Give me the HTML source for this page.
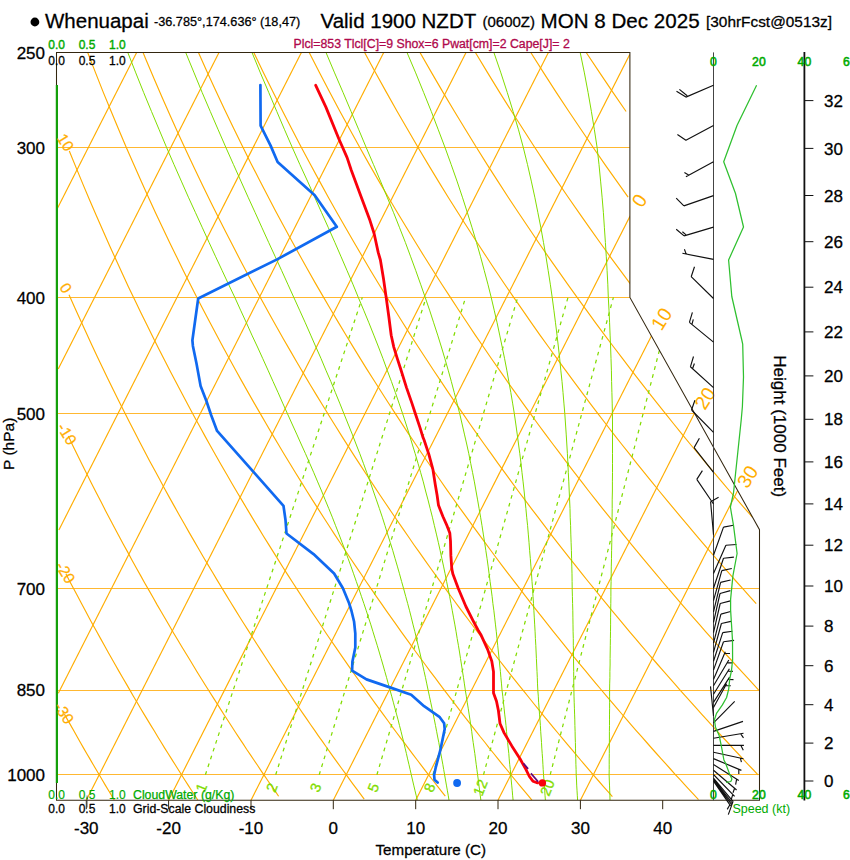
<!DOCTYPE html>
<html><head><meta charset="utf-8"><title>Whenuapai Skew-T</title>
<style>
html,body{margin:0;padding:0;background:#fff;}
body{width:850px;height:860px;overflow:hidden;}
svg{display:block;}
text{stroke-linejoin:round}
text[fill="#000"]{stroke:#000;stroke-width:.28px}
</style></head><body>
<svg width="850" height="860" viewBox="0 0 850 860">
<rect width="850" height="860" fill="#fff"/>
<defs><clipPath id="fc"><polygon points="56.5,800.2 759.5,800.2 759.5,529.7 629.9,297.4 629.9,52.5 56.5,52.5"/></clipPath></defs>
<g clip-path="url(#fc)" fill="none">
<g stroke="#ffb01a" stroke-width="0.9">
<path d="M56.5 774.5 H759.5"/>
<path d="M56.5 690.5 H759.5"/>
<path d="M56.5 588.5 H759.5"/>
<path d="M56.5 413.5 H694.4"/>
<path d="M56.5 297.5 H629.9"/>
<path d="M56.5 147.5 H629.9"/>
</g>
<g stroke="#ffad00" stroke-width="1.15">
<path d="M58.6 -280.3 L132.1 -424.9"/>
<path d="M57.4 -115.8 L214.5 -424.9"/>
<path d="M57.5 46.2 L296.8 -424.9"/>
<path d="M57.6 208.1 L379.2 -424.9"/>
<path d="M58.2 369.1 L461.5 -424.9"/>
<path d="M58.9 529.9 L543.9 -424.9"/>
<path d="M58.3 693.2 L626.2 -424.9"/>
<path d="M86.3 800.2 L629.1 -268.5"/>
<path d="M168.6 800.2 L628.1 -104.4"/>
<path d="M251 800.2 L629.7 54.6"/>
<path d="M333.3 800.2 L630.2 215.8"/>
<path d="M415.7 800.2 L651.9 335.1"/>
<path d="M498 800.2 L694.4 413.6"/>
<path d="M580.4 800.2 L737.4 491"/>
<path d="M64.4 714.1 L67.6 719.9 L70.9 725.6 L74.1 731.3 L77.3 737 L80.4 742.5 L83.6 748.1 L86.7 753.5 L89.9 758.9 L93 764.3 L96.1 769.5 L99.2 774.8 L102.3 780 L105.3 785.1 L108.4 790.2 L111.4 795.2 L114.4 800.2"/>
<path d="M65.9 573.8 L69.8 581.5 L73.8 588.9 L77.7 596.3 L81.5 603.6 L85.4 610.8 L89.2 617.9 L93 624.9 L96.8 631.8 L100.6 638.6 L104.3 645.3 L108 652 L111.7 658.5 L115.4 665 L119 671.4 L122.7 677.7 L126.3 683.9 L129.9 690.1 L133.4 696.2 L137 702.2 L140.5 708.2 L144 714.1 L147.5 719.9 L151 725.6 L154.5 731.3 L157.9 737 L161.3 742.5 L164.7 748.1 L168.1 753.5 L171.5 758.9 L174.9 764.3 L178.2 769.5 L181.5 774.8 L184.8 780 L188.1 785.1 L191.4 790.2 L194.7 795.2 L197.9 800.2"/>
<path d="M68.3 436.1 L73 446 L77.8 455.7 L82.5 465.2 L87.1 474.5 L91.7 483.7 L96.3 492.8 L100.9 501.6 L105.4 510.4 L109.9 518.9 L114.4 527.4 L118.8 535.7 L123.2 543.9 L127.6 551.9 L131.9 559.9 L136.2 567.7 L140.5 575.4 L144.7 583 L149 590.4 L153.2 597.8 L157.3 605.1 L161.5 612.2 L165.6 619.3 L169.7 626.3 L173.7 633.2 L177.8 640 L181.8 646.7 L185.8 653.3 L189.8 659.8 L193.7 666.3 L197.6 672.7 L201.5 679 L205.4 685.2 L209.2 691.3 L213.1 697.4 L216.9 703.4 L220.7 709.4 L224.4 715.2 L228.2 721 L231.9 726.8 L235.6 732.5 L239.3 738.1 L243 743.6 L246.6 749.2 L250.3 754.6 L253.9 760 L257.5 765.3 L261 770.6 L264.6 775.8 L268.1 781 L271.6 786.1 L275.2 791.2 L278.6 796.2"/>
<path d="M69 294.8 L74.8 307.7 L80.5 320.3 L86.1 332.6 L91.7 344.7 L97.2 356.4 L102.7 367.9 L108.1 379.2 L113.5 390.2 L118.8 401 L124.1 411.6 L129.4 421.9 L134.6 432.1 L139.7 442 L144.8 451.8 L149.9 461.4 L155 470.8 L160 480.1 L164.9 489.2 L169.8 498.1 L174.7 506.9 L179.5 515.5 L184.4 524 L189.1 532.4 L193.9 540.6 L198.6 548.7 L203.2 556.7 L207.9 564.6 L212.5 572.3 L217 579.9 L221.6 587.5 L226.1 594.9 L230.6 602.2 L235 609.4 L239.4 616.5 L243.8 623.5 L248.2 630.4 L252.5 637.2 L256.8 644 L261.1 650.6 L265.4 657.2 L269.6 663.7 L273.8 670.1 L278 676.4 L282.1 682.7 L286.3 688.9 L290.4 695 L294.4 701 L298.5 707 L302.5 712.9 L306.5 718.7 L310.5 724.5 L314.5 730.2 L318.4 735.8 L322.4 741.4 L326.3 747 L330.1 752.4 L334 757.8 L337.8 763.2 L341.7 768.5 L345.5 773.7 L349.2 778.9 L353 784.1 L356.8 789.2 L360.5 794.2 L364.2 799.2"/>
<path d="M69.3 151 L76.2 167.9 L83 184.4 L89.7 200.3 L96.4 215.8 L103 230.8 L109.5 245.4 L115.9 259.6 L122.3 273.4 L128.5 286.9 L134.8 300 L140.9 312.8 L147.1 325.3 L153.1 337.5 L159.1 349.4 L165 361.1 L170.9 372.5 L176.7 383.6 L182.5 394.5 L188.2 405.2 L193.8 415.7 L199.5 426 L205 436.1 L210.5 446 L216 455.7 L221.4 465.2 L226.8 474.5 L232.1 483.7 L237.4 492.8 L242.7 501.6 L247.9 510.4 L253 518.9 L258.2 527.4 L263.2 535.7 L268.3 543.9 L273.3 551.9 L278.3 559.9 L283.2 567.7 L288.1 575.4 L293 583 L297.8 590.4 L302.6 597.8 L307.4 605.1 L312.1 612.2 L316.8 619.3 L321.5 626.3 L326.1 633.2 L330.7 640 L335.3 646.7 L339.9 653.3 L344.4 659.8 L348.9 666.3 L353.3 672.7 L357.8 679 L362.2 685.2 L366.6 691.3 L370.9 697.4 L375.2 703.4 L379.6 709.4 L383.8 715.2 L388.1 721 L392.3 726.8 L396.5 732.5 L400.7 738.1 L404.9 743.6 L409 749.2 L413.1 754.6 L417.2 760 L421.3 765.3 L425.3 770.6 L429.4 775.8 L433.4 781 L437.4 786.1 L441.3 791.2 L445.3 796.2"/>
<path d="M71.5 9.1 L79.6 31.2 L87.7 52.5 L95.6 72.9 L103.4 92.6 L111.2 111.5 L118.8 129.8 L126.3 147.5 L133.8 164.6 L141.1 181.1 L148.4 197.2 L155.5 212.7 L162.6 227.8 L169.6 242.5 L176.6 256.8 L183.4 270.7 L190.2 284.2 L196.9 297.4 L203.5 310.2 L210.1 322.8 L216.6 335.1 L223 347 L229.4 358.7 L235.7 370.2 L241.9 381.4 L248.1 392.4 L254.2 403.1 L260.3 413.6 L266.3 424 L272.2 434.1 L278.1 444 L283.9 453.7 L289.7 463.3 L295.5 472.7 L301.2 481.9 L306.8 491 L312.4 499.9 L318 508.6 L323.5 517.2 L329 525.7 L334.4 534.1 L339.8 542.3 L345.1 550.3 L350.4 558.3 L355.7 566.1 L360.9 573.8 L366.1 581.5 L371.2 588.9 L376.3 596.3 L381.4 603.6 L386.4 610.8 L391.4 617.9 L396.4 624.9 L401.3 631.8 L406.2 638.6 L411.1 645.3 L415.9 652 L420.7 658.5 L425.5 665 L430.2 671.4 L435 677.7 L439.6 683.9 L444.3 690.1 L448.9 696.2 L453.5 702.2 L458.1 708.2 L462.6 714.1 L467.1 719.9 L471.6 725.6 L476.1 731.3 L480.5 737 L485 742.5 L489.3 748.1 L493.7 753.5 L498 758.9 L502.4 764.3 L506.7 769.5 L510.9 774.8 L515.2 780 L519.4 785.1 L523.6 790.2 L527.8 795.2 L531.9 800.2"/>
<path d="M72.6 -139.3 L82.3 -110 L91.7 -82.3 L101.1 -56 L110.2 -31 L119.3 -7 L128.2 15.8 L137 37.7 L145.6 58.7 L154.2 78.9 L162.6 98.4 L170.8 117.1 L179 135.2 L187.1 152.7 L195 169.6 L202.9 186 L210.7 201.9 L218.3 217.3 L225.9 232.3 L233.4 246.8 L240.7 261 L248 274.8 L255.3 288.2 L262.4 301.3 L269.4 314 L276.4 326.5 L283.3 338.7 L290.2 350.6 L296.9 362.2 L303.6 373.6 L310.2 384.7 L316.8 395.6 L323.3 406.3 L329.7 416.8 L336.1 427 L342.4 437.1 L348.6 446.9 L354.8 456.6 L361 466.1 L367.1 475.5 L373.1 484.6 L379.1 493.7 L385 502.5 L390.9 511.2 L396.7 519.8 L402.5 528.2 L408.3 536.5 L413.9 544.7 L419.6 552.7 L425.2 560.7 L430.8 568.5 L436.3 576.1 L441.8 583.7 L447.2 591.2 L452.6 598.5 L458 605.8 L463.3 612.9 L468.6 620 L473.8 627 L479 633.8 L484.2 640.6 L489.3 647.3 L494.4 653.9 L499.5 660.5 L504.5 666.9 L509.5 673.3 L514.5 679.6 L519.5 685.8 L524.4 691.9 L529.3 698 L534.1 704 L538.9 709.9 L543.7 715.8 L548.5 721.6 L553.2 727.4 L557.9 733 L562.6 738.6 L567.2 744.2 L571.9 749.7 L576.5 755.1 L581 760.5 L585.6 765.8 L590.1 771.1 L594.6 776.3 L599.1 781.5 L603.5 786.6 L608 791.7 L612.4 796.7"/>
<path d="M74.5 -292.2 L85.7 -253.3 L96.7 -217.1 L107.6 -183.3 L118.3 -151.5 L128.8 -121.6 L139.1 -93.2 L149.2 -66.4 L159.2 -40.8 L169 -16.5 L178.7 6.8 L188.2 29.1 L197.5 50.4 L206.7 70.9 L215.8 90.7 L224.7 109.7 L233.5 128 L242.2 145.8 L250.7 162.9 L259.2 179.5 L267.5 195.6 L275.7 211.2 L283.8 226.3 L291.8 241 L299.7 255.3 L307.5 269.3 L315.2 282.9 L322.9 296.1 L330.4 309 L337.9 321.6 L345.2 333.8 L352.5 345.9 L359.7 357.6 L366.8 369.1 L373.9 380.3 L380.9 391.3 L387.8 402 L394.7 412.6 L401.4 422.9 L408.1 433.1 L414.8 443 L421.4 452.8 L427.9 462.3 L434.4 471.8 L440.8 481 L447.1 490.1 L453.4 499 L459.7 507.8 L465.9 516.4 L472 524.9 L478.1 533.2 L484.1 541.4 L490.1 549.5 L496 557.5 L501.9 565.3 L507.8 573.1 L513.6 580.7 L519.4 588.2 L525.1 595.6 L530.7 602.9 L536.4 610.1 L542 617.2 L547.5 624.2 L553 631.1 L558.5 637.9 L563.9 644.7 L569.3 651.3 L574.7 657.9 L580 664.3 L585.3 670.7 L590.6 677.1 L595.8 683.3 L601 689.5 L606.1 695.6 L611.3 701.6 L616.4 707.6 L621.4 713.5 L626.5 719.3 L631.4 725.1 L636.4 730.8 L641.4 736.4 L646.3 742 L651.1 747.5 L656 753 L660.8 758.4 L665.6 763.7 L670.4 769 L675.1 774.3 L679.9 779.4 L684.6 784.6 L689.2 789.7 L693.9 794.7 L698.5 799.7"/>
<path d="M96.5 -375.2 L109.1 -329.9 L121.6 -288.2 L133.7 -249.6 L145.7 -213.6 L157.4 -180 L169 -148.4 L180.2 -118.7 L191.3 -90.5 L202.2 -63.8 L212.9 -38.3 L223.4 -14.1 L233.7 9.1 L243.9 31.2 L253.8 52.5 L263.6 72.9 L273.3 92.6 L282.8 111.5 L292.2 129.8 L301.4 147.5 L310.5 164.6 L319.5 181.1 L328.3 197.2 L337 212.7 L345.6 227.8 L354.1 242.5 L362.5 256.8 L370.7 270.7 L378.9 284.2 L387 297.4 L395 310.2 L402.8 322.8 L410.6 335.1 L418.3 347 L426 358.7 L433.5 370.2 L441 381.4 L448.3 392.4 L455.6 403.1 L462.9 413.6 L470 424 L477.1 434.1 L484.1 444 L491.1 453.7 L498 463.3 L504.8 472.7 L511.5 481.9 L518.2 491 L524.9 499.9 L531.4 508.6 L538 517.2 L544.4 525.7 L550.8 534.1 L557.2 542.3 L563.5 550.3 L569.8 558.3 L576 566.1 L582.1 573.8 L588.2 581.5 L594.3 588.9 L600.3 596.3 L606.3 603.6 L612.2 610.8 L618.1 617.9 L623.9 624.9 L629.7 631.8 L635.5 638.6 L641.2 645.3 L646.9 652 L652.5 658.5 L658.1 665 L663.7 671.4 L669.2 677.7 L674.7 683.9 L680.1 690.1 L685.5 696.2 L690.9 702.2 L696.3 708.2 L701.6 714.1 L706.9 719.9 L712.1 725.6 L717.3 731.3 L722.5 737 L727.7 742.5 L732.8 748.1 L737.9 753.5 L742.9 758.9 L748 764.3 L753 769.5 L758 774.8"/>
<path d="M140.3 -375.2 L154 -329.9 L167.5 -288.2 L180.7 -249.6 L193.6 -213.6 L206.2 -180 L218.6 -148.4 L230.7 -118.7 L242.5 -90.5 L254.2 -63.8 L265.6 -38.3 L276.8 -14.1 L287.8 9.1 L298.6 31.2 L309.2 52.5 L319.7 72.9 L329.9 92.6 L340 111.5 L350 129.8 L359.8 147.5 L369.4 164.6 L378.9 181.1 L388.3 197.2 L397.5 212.7 L406.6 227.8 L415.6 242.5 L424.4 256.8 L433.2 270.7 L441.8 284.2 L450.4 297.4 L458.8 310.2 L467.1 322.8 L475.3 335.1 L483.5 347 L491.5 358.7 L499.5 370.2 L507.3 381.4 L515.1 392.4 L522.8 403.1 L530.4 413.6 L537.9 424 L545.4 434.1 L552.8 444 L560.1 453.7 L567.4 463.3 L574.5 472.7 L581.7 481.9 L588.7 491 L595.7 499.9 L602.6 508.6 L609.5 517.2 L616.3 525.7 L623 534.1 L629.7 542.3 L636.3 550.3 L642.9 558.3 L649.4 566.1 L655.9 573.8 L662.3 581.5 L668.6 588.9 L675 596.3 L681.2 603.6 L687.5 610.8 L693.6 617.9 L699.8 624.9 L705.8 631.8 L711.9 638.6 L717.9 645.3 L723.8 652 L729.8 658.5 L735.6 665 L741.5 671.4 L747.3 677.7 L753 683.9 L758.7 690.1"/>
<path d="M184.1 -375.2 L198.9 -329.9 L213.4 -288.2 L227.6 -249.6 L241.4 -213.6 L255 -180 L268.2 -148.4 L281.1 -118.7 L293.8 -90.5 L306.2 -63.8 L318.3 -38.3 L330.2 -14.1 L341.9 9.1 L353.4 31.2 L364.6 52.5 L375.7 72.9 L386.6 92.6 L397.2 111.5 L407.8 129.8 L418.1 147.5 L428.3 164.6 L438.3 181.1 L448.2 197.2 L458 212.7 L467.6 227.8 L477.1 242.5 L486.4 256.8 L495.6 270.7 L504.7 284.2 L513.7 297.4 L522.6 310.2 L531.4 322.8 L540 335.1 L548.6 347 L557 358.7 L565.4 370.2 L573.7 381.4 L581.9 392.4 L589.9 403.1 L597.9 413.6 L605.9 424 L613.7 434.1 L621.5 444 L629.2 453.7 L636.8 463.3 L644.3 472.7 L651.8 481.9 L659.2 491 L666.5 499.9 L673.8 508.6 L680.9 517.2 L688.1 525.7 L695.2 534.1 L702.2 542.3 L709.1 550.3 L716 558.3 L722.8 566.1 L729.6 573.8 L736.3 581.5 L743 588.9 L749.6 596.3 L756.2 603.6"/>
<path d="M227.9 -375.2 L243.8 -329.9 L259.4 -288.2 L274.5 -249.6 L289.3 -213.6 L303.7 -180 L317.8 -148.4 L331.5 -118.7 L345 -90.5 L358.1 -63.8 L371 -38.3 L383.6 -14.1 L396 9.1 L408.1 31.2 L420 52.5 L431.7 72.9 L443.2 92.6 L454.5 111.5 L465.6 129.8 L476.5 147.5 L487.2 164.6 L497.8 181.1 L508.2 197.2 L518.5 212.7 L528.6 227.8 L538.5 242.5 L548.4 256.8 L558.1 270.7 L567.6 284.2 L577.1 297.4 L586.4 310.2 L595.6 322.8 L604.7 335.1 L613.7 347 L622.6 358.7 L631.3 370.2 L640 381.4 L648.6 392.4 L657.1 403.1 L665.5 413.6 L673.8 424 L682 434.1 L690.1 444 L698.2 453.7 L706.2 463.3 L714.1 472.7 L721.9 481.9 L729.6 491 L737.3 499.9 L744.9 508.6 L752.4 517.2"/>
<path d="M271.7 -375.2 L288.8 -329.9 L305.3 -288.2 L321.5 -249.6 L337.2 -213.6 L352.5 -180 L367.4 -148.4 L382 -118.7 L396.2 -90.5 L410.1 -63.8 L423.7 -38.3 L437 -14.1 L450.1 9.1 L462.9 31.2 L475.4 52.5 L487.7 72.9 L499.8 92.6 L511.7 111.5 L523.4 129.8 L534.8 147.5 L546.1 164.6 L557.2 181.1 L568.2 197.2 L578.9 212.7 L589.6 227.8 L600 242.5 L610.3 256.8 L620.5 270.7 L630.5 284.2"/>
<path d="M315.5 -375.2 L333.7 -329.9 L351.3 -288.2 L368.4 -249.6 L385 -213.6 L401.2 -180 L417 -148.4 L432.4 -118.7 L447.4 -90.5 L462.1 -63.8 L476.4 -38.3 L490.4 -14.1 L504.2 9.1 L517.6 31.2 L530.8 52.5 L543.7 72.9 L556.4 92.6 L568.9 111.5 L581.2 129.8 L593.2 147.5 L605 164.6 L616.7 181.1 L628.1 197.2"/>
<path d="M359.3 -375.2 L378.6 -329.9 L397.2 -288.2 L415.3 -249.6 L432.9 -213.6 L450 -180 L466.6 -148.4 L482.8 -118.7 L498.6 -90.5 L514 -63.8 L529.1 -38.3 L543.8 -14.1 L558.2 9.1 L572.4 31.2 L586.2 52.5 L599.8 72.9 L613.1 92.6 L626.1 111.5"/>
<path d="M403.1 -375.2 L423.5 -329.9 L443.2 -288.2 L462.2 -249.6 L480.8 -213.6 L498.7 -180 L516.2 -148.4 L533.2 -118.7 L549.8 -90.5 L566 -63.8 L581.8 -38.3 L597.2 -14.1 L612.3 9.1 L627.1 31.2"/>
<path d="M446.9 -375.2 L468.4 -329.9 L489.1 -288.2 L509.2 -249.6 L528.6 -213.6 L547.5 -180 L565.8 -148.4 L583.7 -118.7 L601 -90.5 L618 -63.8 L634.5 -38.3"/>
<path d="M490.7 -375.2 L513.3 -329.9 L535.1 -288.2 L556.1 -249.6 L576.5 -213.6 L596.2 -180 L615.4 -148.4 L634.1 -118.7"/>
<path d="M534.5 -375.2 L558.2 -329.9 L581 -288.2 L603 -249.6 L624.3 -213.6"/>
<path d="M578.3 -375.2 L603.1 -329.9 L626.9 -288.2"/>
</g>
<g stroke="#82dc00" stroke-width="1">
<path d="M610 800.2 L609.9 795.2 L609.7 790.2 L609.5 785.1 L609.3 780 L609.1 774.8 L609.2 769.5 L609.2 764.3 L609.2 758.9 L609.3 753.5 L609.3 748.1 L609.4 742.5 L609.4 737 L609.4 731.3 L609.5 725.6 L609.5 719.9 L609.5 714.1 L609.6 708.2 L609.6 702.2 L609.6 696.2 L609.6 690.1 L609.7 683.9 L609.9 677.7 L609.9 671.4 L610.1 665 L610.1 658.5 L610.2 652 L610.3 645.3 L610.4 638.6 L610.5 631.8 L610.6 624.9 L610.6 617.9 L610.7 610.8 L610.8 603.6 L610.9 596.3 L610.9 588.9 L611.1 581.5 L611.2 573.8 L611.3 566.1 L611.5 558.3 L611.6 550.3 L611.8 542.3 L611.8 534.1 L612 525.7 L612.1 517.2 L612.2 508.6 L612.2 499.9 L612.4 491 L612.4 481.9 L612.5 472.7 L612.5 463.3 L612.5 453.7 L612.5 444 L612.5 434.1 L612.5 424 L612.4 413.6 L612.2 403.1 L611.9 392.4 L611.6 381.4 L611.4 370.2 L611 358.7 L610.6 347 L610.1 335.1 L609.6 322.8 L609 310.2 L608.3 297.4 L607.8 284.2 L607.1 270.7 L606.3 256.8 L605.4 242.5 L604.4 227.8 L603.4 212.7 L602.1 197.2 L600.6 181.1 L599 164.6 L597.1 147.5 L594.4 129.8 L591.4 111.5 L588.1 92.6 L584.4 72.9 L580.2 52.5 L575.9 31.2"/>
<path d="M577.6 800.2 L577.3 795.2 L577 790.2 L576.7 785.1 L576.5 780 L576.2 774.8 L576.1 769.5 L575.9 764.3 L575.8 758.9 L575.6 753.5 L575.5 748.1 L575.4 742.5 L575.2 737 L575.1 731.3 L574.9 725.6 L574.8 719.9 L574.6 714.1 L574.4 708.2 L574.2 702.2 L574 696.2 L573.9 690.1 L573.8 683.9 L573.7 677.7 L573.7 671.4 L573.6 665 L573.5 658.5 L573.5 652 L573.3 645.3 L573.3 638.6 L573.1 631.8 L573 624.9 L572.9 617.9 L572.8 610.8 L572.6 603.6 L572.4 596.3 L572.2 588.9 L572.1 581.5 L572 573.8 L571.8 566.1 L571.6 558.3 L571.4 550.3 L571.1 542.3 L570.8 534.1 L570.6 525.7 L570.2 517.2 L570 508.6 L569.6 499.9 L569.2 491 L568.8 481.9 L568.3 472.7 L567.9 463.3 L567.4 453.7 L566.8 444 L566.2 434.1 L565.5 424 L564.8 413.6 L563.9 403.1 L563 392.4 L562 381.4 L560.8 370.2 L559.7 358.7 L558.4 347 L557 335.1 L555.5 322.8 L553.9 310.2 L552.2 297.4 L550.3 284.2 L548.2 270.7 L546 256.8 L543.5 242.5 L540.9 227.8 L537.9 212.7 L534.8 197.2 L531.3 181.1 L527.5 164.6 L523.3 147.5 L518.5 129.8 L513.1 111.5 L507.3 92.6 L500.9 72.9 L493.9 52.5 L486.5 31.2"/>
<path d="M545.4 800.2 L545 795.2 L544.7 790.2 L544.3 785.1 L544 780 L543.5 774.8 L543.2 769.5 L542.9 764.3 L542.6 758.9 L542.2 753.5 L541.8 748.1 L541.5 742.5 L541.1 737 L540.7 731.3 L540.4 725.6 L540 719.9 L539.5 714.1 L539.1 708.2 L538.6 702.2 L538.3 696.2 L537.8 690.1 L537.5 683.9 L537.3 677.7 L537 671.4 L536.7 665 L536.4 658.5 L536.1 652 L535.8 645.3 L535.4 638.6 L535.1 631.8 L534.7 624.9 L534.3 617.9 L533.9 610.8 L533.5 603.6 L533 596.3 L532.6 588.9 L532 581.5 L531.5 573.8 L530.9 566.1 L530.3 558.3 L529.6 550.3 L529 542.3 L528.3 534.1 L527.6 525.7 L526.7 517.2 L525.9 508.6 L525 499.9 L524.1 491 L523.1 481.9 L522 472.7 L521 463.3 L519.8 453.7 L518.5 444 L517.2 434.1 L515.8 424 L514.3 413.6 L512.6 403.1 L510.8 392.4 L508.8 381.4 L506.8 370.2 L504.6 358.7 L502.2 347 L499.7 335.1 L497.1 322.8 L494.2 310.2 L491.2 297.4 L487.9 284.2 L484.3 270.7 L480.6 256.8 L476.5 242.5 L472.1 227.8 L467.4 212.7 L462.4 197.2 L457 181.1 L451.2 164.6 L445 147.5 L438.3 129.8 L431.3 111.5 L423.7 92.6 L415.7 72.9 L407 52.5 L397.7 31.2"/>
<path d="M513.1 800.2 L512.6 795.2 L512.2 790.2 L511.7 785.1 L511.2 780 L510.7 774.8 L510.3 769.5 L509.7 764.3 L509.2 758.9 L508.8 753.5 L508.2 748.1 L507.6 742.5 L507.1 737 L506.5 731.3 L506 725.6 L505.4 719.9 L504.7 714.1 L504.1 708.2 L503.4 702.2 L502.8 696.2 L502 690.1 L501.5 683.9 L500.9 677.7 L500.4 671.4 L499.7 665 L499.1 658.5 L498.4 652 L497.7 645.3 L497 638.6 L496.3 631.8 L495.5 624.9 L494.7 617.9 L493.9 610.8 L492.9 603.6 L492.1 596.3 L491.1 588.9 L490.1 581.5 L489.1 573.8 L488.1 566.1 L487 558.3 L485.8 550.3 L484.6 542.3 L483.3 534.1 L482 525.7 L480.6 517.2 L479.1 508.6 L477.6 499.9 L476 491 L474.4 481.9 L472.6 472.7 L470.7 463.3 L468.8 453.7 L466.7 444 L464.4 434.1 L462.1 424 L459.7 413.6 L457 403.1 L454.2 392.4 L451.3 381.4 L448.2 370.2 L444.9 358.7 L441.4 347 L437.7 335.1 L433.7 322.8 L429.6 310.2 L425.2 297.4 L420.6 284.2 L415.8 270.7 L410.7 256.8 L405.4 242.5 L399.6 227.8 L393.6 212.7 L387.2 197.2 L380.5 181.1 L373.5 164.6 L366.2 147.5 L358.8 129.8 L351.1 111.5 L343.1 92.6 L334.6 72.9 L326 52.5 L316.2 31.2"/>
<path d="M480.9 800.2 L480.2 795.2 L479.6 790.2 L478.9 785.1 L478.3 780 L477.6 774.8 L476.9 769.5 L476.2 764.3 L475.5 758.9 L474.8 753.5 L474 748.1 L473.2 742.5 L472.4 737 L471.7 731.3 L470.8 725.6 L470 719.9 L469.1 714.1 L468.2 708.2 L467.2 702.2 L466.3 696.2 L465.3 690.1 L464.4 683.9 L463.5 677.7 L462.5 671.4 L461.5 665 L460.5 658.5 L459.5 652 L458.4 645.3 L457.2 638.6 L456.1 631.8 L454.9 624.9 L453.6 617.9 L452.3 610.8 L451 603.6 L449.6 596.3 L448.1 588.9 L446.6 581.5 L445.1 573.8 L443.5 566.1 L441.8 558.3 L440.1 550.3 L438.3 542.3 L436.4 534.1 L434.4 525.7 L432.4 517.2 L430.2 508.6 L428 499.9 L425.6 491 L423.3 481.9 L420.7 472.7 L418 463.3 L415.2 453.7 L412.2 444 L409.2 434.1 L406 424 L402.6 413.6 L399 403.1 L395.3 392.4 L391.4 381.4 L387.2 370.2 L383 358.7 L378.5 347 L373.8 335.1 L368.9 322.8 L363.7 310.2 L358.3 297.4 L352.9 284.2 L347.1 270.7 L341.1 256.8 L334.9 242.5 L328.4 227.8 L321.6 212.7 L314.7 197.2 L307.5 181.1 L299.9 164.6 L292.3 147.5 L284.6 129.8 L276.8 111.5 L268.8 92.6 L260.4 72.9 L252 52.5 L242.5 31.2"/>
<path d="M449 800.2 L448.2 795.2 L447.3 790.2 L446.4 785.1 L445.5 780 L444.6 774.8 L443.7 769.5 L442.8 764.3 L441.8 758.9 L440.8 753.5 L439.8 748.1 L438.8 742.5 L437.7 737 L436.6 731.3 L435.5 725.6 L434.4 719.9 L433.2 714.1 L432 708.2 L430.7 702.2 L429.4 696.2 L428.1 690.1 L426.8 683.9 L425.5 677.7 L424.1 671.4 L422.7 665 L421.2 658.5 L419.7 652 L418.1 645.3 L416.5 638.6 L414.9 631.8 L413.1 624.9 L411.4 617.9 L409.6 610.8 L407.7 603.6 L405.7 596.3 L403.7 588.9 L401.6 581.5 L399.5 573.8 L397.3 566.1 L395 558.3 L392.7 550.3 L390.2 542.3 L387.6 534.1 L385 525.7 L382.3 517.2 L379.4 508.6 L376.4 499.9 L373.3 491 L370.2 481.9 L366.8 472.7 L363.4 463.3 L359.8 453.7 L356 444 L352.2 434.1 L348.1 424 L343.9 413.6 L339.7 403.1 L335.3 392.4 L330.8 381.4 L325.9 370.2 L321.1 358.7 L315.9 347 L310.7 335.1 L305.3 322.8 L299.6 310.2 L293.8 297.4 L287.8 284.2 L281.7 270.7 L275.3 256.8 L268.7 242.5 L262 227.8 L255.2 212.7 L248.1 197.2 L240.9 181.1 L233.5 164.6 L225.9 147.5 L218.2 129.8 L210.3 111.5 L202.2 92.6 L194.1 72.9 L185.7 52.5 L176.7 31.2"/>
<path d="M417.3 800.2 L416.1 795.2 L414.9 790.2 L413.7 785.1 L412.5 780 L411.3 774.8 L410.1 769.5 L408.9 764.3 L407.6 758.9 L406.4 753.5 L405.1 748.1 L403.8 742.5 L402.4 737 L401 731.3 L399.5 725.6 L398.1 719.9 L396.5 714.1 L394.9 708.2 L393.3 702.2 L391.7 696.2 L390 690.1 L388.3 683.9 L386.6 677.7 L384.8 671.4 L383 665 L381.1 658.5 L379.2 652 L377.2 645.3 L375.1 638.6 L373 631.8 L370.9 624.9 L368.6 617.9 L366.3 610.8 L363.9 603.6 L361.4 596.3 L358.9 588.9 L356.3 581.5 L353.6 573.8 L350.9 566.1 L348 558.3 L345.1 550.3 L342 542.3 L338.9 534.1 L335.6 525.7 L332.3 517.2 L328.8 508.6 L325.2 499.9 L321.6 491 L317.7 481.9 L313.8 472.7 L309.7 463.3 L305.5 453.7 L301.1 444 L296.7 434.1 L292.1 424 L287.4 413.6 L282.7 403.1 L278 392.4 L273 381.4 L268 370.2 L262.8 358.7 L257.5 347 L251.9 335.1 L246.4 322.8 L240.6 310.2 L234.8 297.4 L228.5 284.2 L222.2 270.7 L215.7 256.8 L209.1 242.5 L202.4 227.8 L195.5 212.7 L188.4 197.2 L181.3 181.1 L174 164.6 L166.6 147.5 L159.2 129.8 L151.5 111.5 L143.7 92.6 L135.8 72.9 L127.8 52.5 L119.4 31.2"/>
</g>
<g stroke="#82dc00" stroke-width="1.25" stroke-dasharray="3.7 4.5">
<path d="M550.2 774.8 L673 297.4"/>
<path d="M483.5 774.8 L613.4 297.4"/>
<path d="M432.9 774.8 L568 297.4"/>
<path d="M376.9 774.8 L517.7 297.4"/>
<path d="M319.2 774.8 L465.6 297.4"/>
<path d="M275.7 774.8 L426.1 297.4"/>
<path d="M205.4 774.8 L362.3 297.4"/>
</g>
</g>
<polygon points="56.5,800.2 759.5,800.2 759.5,529.7 629.9,297.4 629.9,52.5 56.5,52.5" fill="none" stroke="#33260f" stroke-width="1.05"/>
<path d="M56.9 85 V783" stroke="#14a00a" stroke-width="2.2" fill="none"/>
<path d="M86.3 800.2 v9" stroke="#33260f" stroke-width="1"/>
<path d="M168.6 800.2 v9" stroke="#33260f" stroke-width="1"/>
<path d="M251 800.2 v9" stroke="#33260f" stroke-width="1"/>
<path d="M333.3 800.2 v9" stroke="#33260f" stroke-width="1"/>
<path d="M415.7 800.2 v9" stroke="#33260f" stroke-width="1"/>
<path d="M498 800.2 v9" stroke="#33260f" stroke-width="1"/>
<path d="M580.4 800.2 v9" stroke="#33260f" stroke-width="1"/>
<path d="M662.7 800.2 v9" stroke="#33260f" stroke-width="1"/>
<path d="M87.1 795.5 v12" stroke="#444" stroke-width="0.8"/>
<text x="639.4" y="200.6" font-family="Liberation Sans, Arial, Helvetica, sans-serif" font-size="19.5" fill="#ffad00" text-anchor="middle" transform="rotate(-58 639.4 200.6)" dy="6.8">0</text>
<text x="661.6" y="319" font-family="Liberation Sans, Arial, Helvetica, sans-serif" font-size="19.5" fill="#ffad00" text-anchor="middle" transform="rotate(-58 661.6 319)" dy="6.8">10</text>
<text x="705" y="398.3" font-family="Liberation Sans, Arial, Helvetica, sans-serif" font-size="19.5" fill="#ffad00" text-anchor="middle" transform="rotate(-58 705 398.3)" dy="6.8">20</text>
<text x="747.5" y="476.6" font-family="Liberation Sans, Arial, Helvetica, sans-serif" font-size="19.5" fill="#ffad00" text-anchor="middle" transform="rotate(-58 747.5 476.6)" dy="6.8">30</text>
<text x="65.6" y="142.4" font-family="Liberation Sans, Arial, Helvetica, sans-serif" font-size="15.5" fill="#ffad00" stroke="#ffad00" stroke-width="0.25" text-anchor="middle" transform="rotate(58 65.6 142.4)" dy="5.5">10</text>
<text x="65.9" y="288.1" font-family="Liberation Sans, Arial, Helvetica, sans-serif" font-size="15.5" fill="#ffad00" stroke="#ffad00" stroke-width="0.25" text-anchor="middle" transform="rotate(58 65.9 288.1)" dy="5.5">0</text>
<text x="67.1" y="433.9" font-family="Liberation Sans, Arial, Helvetica, sans-serif" font-size="15.5" fill="#ffad00" stroke="#ffad00" stroke-width="0.25" text-anchor="middle" transform="rotate(58 67.1 433.9)" dy="5.5">-10</text>
<text x="65.6" y="572.5" font-family="Liberation Sans, Arial, Helvetica, sans-serif" font-size="15.5" fill="#ffad00" stroke="#ffad00" stroke-width="0.25" text-anchor="middle" transform="rotate(58 65.6 572.5)" dy="5.5">-20</text>
<text x="64.2" y="713" font-family="Liberation Sans, Arial, Helvetica, sans-serif" font-size="15.5" fill="#ffad00" stroke="#ffad00" stroke-width="0.25" text-anchor="middle" transform="rotate(58 64.2 713)" dy="5.5">-30</text>
<text x="547.1" y="787.6" font-family="Liberation Sans, Arial, Helvetica, sans-serif" font-size="14.5" fill="#82dc00" stroke="#82dc00" stroke-width="0.3" text-anchor="middle" transform="rotate(-68 547.1 787.6)" dy="5.2">20</text>
<text x="480.1" y="787.6" font-family="Liberation Sans, Arial, Helvetica, sans-serif" font-size="14.5" fill="#82dc00" stroke="#82dc00" stroke-width="0.3" text-anchor="middle" transform="rotate(-68 480.1 787.6)" dy="5.2">12</text>
<text x="429.4" y="787.6" font-family="Liberation Sans, Arial, Helvetica, sans-serif" font-size="14.5" fill="#82dc00" stroke="#82dc00" stroke-width="0.3" text-anchor="middle" transform="rotate(-68 429.4 787.6)" dy="5.2">8</text>
<text x="373.3" y="787.6" font-family="Liberation Sans, Arial, Helvetica, sans-serif" font-size="14.5" fill="#82dc00" stroke="#82dc00" stroke-width="0.3" text-anchor="middle" transform="rotate(-68 373.3 787.6)" dy="5.2">5</text>
<text x="315.4" y="787.6" font-family="Liberation Sans, Arial, Helvetica, sans-serif" font-size="14.5" fill="#82dc00" stroke="#82dc00" stroke-width="0.3" text-anchor="middle" transform="rotate(-68 315.4 787.6)" dy="5.2">3</text>
<text x="271.7" y="787.6" font-family="Liberation Sans, Arial, Helvetica, sans-serif" font-size="14.5" fill="#82dc00" stroke="#82dc00" stroke-width="0.3" text-anchor="middle" transform="rotate(-68 271.7 787.6)" dy="5.2">2</text>
<text x="201.3" y="787.6" font-family="Liberation Sans, Arial, Helvetica, sans-serif" font-size="14.5" fill="#82dc00" stroke="#82dc00" stroke-width="0.3" text-anchor="middle" transform="rotate(-68 201.3 787.6)" dy="5.2">1</text>
<path d="M260.4 85 L260.6 125.6 L270.6 145.6 L277.6 162 L314.7 195.3 L336.8 226.8 L277.1 259.4 L198.2 298.5 L192.4 340.3 L192.9 345.9 L196.5 363.5 L200.6 385.9 L206.5 401.2 L211.2 415.3 L217.1 430.9 L283.5 505.9 L285.5 520 L286.5 533.5 L313.5 554.1 L334.1 573.5 L342.9 588.2 L348.8 602.4 L351.5 611 L354.1 621.8 L355.3 633.5 L355.3 647.6 L352.4 661.8 L352.1 670.6 L366.5 679.4 L390.6 687.6 L411.2 694.7 L424.1 706.2 L439.4 716.8 L444.1 723.2 L444.7 729.1 L440.6 749.1 L435.9 766.8 L434.1 775 L434.5 779.7 L437.6 782.6" fill="none" stroke="#1069f0" stroke-width="2.7" stroke-linejoin="round" stroke-linecap="round"/>
<path d="M315.7 85.3 L325.9 107.1 L338.8 138.8 L347.1 157.6 L351.2 170 L361.2 197.1 L370 220.6 L374.1 233.5 L378.2 252.4 L380.4 260 L383.5 278.8 L386.2 297.6 L388.8 316.5 L391.2 335.3 L393.8 347.1 L397.4 358.8 L400.6 368.8 L406.5 387.6 L411.8 402.9 L415.3 413.5 L420 427.6 L422.9 437.1 L424.1 440 L428.8 454.1 L432.9 469.4 L435.3 484.7 L437.1 495.3 L438.5 505.3 L442.9 516.5 L447.1 525.9 L449.8 532.9 L450.5 541 L450.9 555.9 L451.8 568.8 L452.9 574.1 L458.2 588.2 L465.9 606.5 L472.9 620.3 L478 630 L481.2 635.3 L487.6 649.4 L491.8 661.2 L493.5 671.8 L493.5 683.5 L493.5 692.9 L496.5 701.2 L498.4 710.5 L500 723.5 L504.1 732.9 L511.8 745.9 L520 758.8 L525.9 769.4 L529.4 776.5 L532.9 781.2 L537.6 782.9" fill="none" stroke="#fa000c" stroke-width="2.8" stroke-linejoin="round" stroke-linecap="round"/>
<path d="M523.4 763.4 L528.1 768.9 M530.9 773.4 L538.2 781.8" fill="none" stroke="#64087a" stroke-width="1.7"/>
<circle cx="457.1" cy="783" r="3.9" fill="#1069f0"/>
<circle cx="542.4" cy="782.9" r="3.7" fill="#fa000c"/>
<path d="M713.5 52.4 V800.4" stroke="#444" stroke-width="1" fill="none"/>
<path d="M713.5 85.3 L685.9 97.1 M685.9 97.1 L676.5 91.2 M687.2 95.8 L679.4 89.4 M713.5 125.5 L685.9 140.2 M685.9 140.2 L677.4 134.5 M713.5 161.8 L685.9 176.7 M688.6 174.9 L684.4 172.4 M713.5 195.6 L683.9 205.9 M683.9 205.9 L676.2 198.2 M713.5 227.1 L684.1 235.9 M684.1 235.9 L676.2 229.2 M686.1 234.9 L682.4 231.8 M713.5 259.4 L682.4 253.3 M686.1 253.9 L684.4 249.2 M713.5 298.5 L691.2 276.7 M691.2 276.7 L694.5 266.8 M713.5 342.1 L689.4 322.4 M689.4 322.4 L692.4 312.4 M692 324.1 L693.3 319.4 M713.5 387.6 L690.4 366.8 M690.4 366.8 L693.5 356.5 M692.7 368.2 L694.4 363.5 M713.5 432.4 L691.5 410 M691.5 410 L694.9 400.2 M713.5 472.4 L694.1 447.6 M694.1 447.6 L699.4 438.2 M713.5 504 L696.8 479.4 M696.8 479.4 L702.4 470.6 M713.5 534.7 L710.6 501.8 M710.6 501.8 L718.6 497.3 M713.5 555.3 L723.5 527.1 M723.5 527.1 L733.5 525.3 M713.5 573.5 L725.9 545.3 M725.9 545.3 L736.5 544.5 M713.5 588.2 L723.5 558.2 M723.5 558.2 L733.9 557.1 M713.5 600.6 L721.8 570.6 M721.8 570.6 L731.8 568.5 M713.5 611.8 L720.6 582.4 M720.6 582.4 L730.6 580 M713.5 622.4 L720 593.5 M720 593.5 L730.4 590.6 M713.5 632.7 L720.2 603.5 M720.2 603.5 L730.4 600.9 M713.5 643.2 L720.9 614.1 M720.9 614.1 L730.6 611.5 M713.5 652.4 L721.4 623.5 M721.4 623.5 L730.9 621.4 M713.5 661.2 L722.7 632.6 M722.7 632.6 L732.4 631.2 M713.5 670.1 L723.5 641.8 M723.5 641.8 L734.1 640.4 M713.5 679.4 L725.3 651.8 M724.3 653.4 L730 653.5 M713.5 685.8 L728.8 660 M727.6 662.9 L732 662.9 M713.5 694.2 L729.4 668.8 M728.2 671.2 L732.9 671.4 M713.5 702.4 L729.6 677.1 M728.8 679.4 L733.5 679.6 M713.5 707.5 L726.6 683.8 M725.5 685.7 L730.8 685.7 M713.5 716 L710.5 686.4 M713.5 722.9 L734.7 701.4 M713.5 731.4 L743 721.4 M713.5 738.3 L743.5 733.2 M740.9 734.1 L743.5 737.8 M713.5 745.4 L743.9 745.4 M740.9 745.6 L743.3 750.2 M713.5 752.2 L743.5 758.8 M740.4 758.2 L741.4 762.2 M713.5 758.6 L741.4 770.4 M738.8 769.6 L738.8 774.1 M713.5 764.6 L738.8 780.5 M736.6 779.4 L735.6 784.7 M713.5 770.2 L736.6 790 M734.6 788.2 L733 792.8 M713.5 774.5 L734.6 796.3 M732.8 794.4 L731.4 799 M713.5 778 L733.2 801.6 M733 801.6 L728.3 814.6 M713.5 779.3 L732.3 803 M713.5 780.3 L731.5 804.4 M713.5 781.2 L730.6 805.9 M727.2 809.4 L729.6 805.2" fill="none" stroke="#111" stroke-width="1.15"/>
<path d="M756.6 85.3 L737.1 125.3 L723.7 161.8 L735.5 193.5 L743.5 227 L728.6 260 L731.8 296.5 L741.8 340 L742.7 344.1 L743.5 377 L742.4 406.5 L741.2 420 L733.5 493 L730.4 507 L731.2 512 L733.5 525.3 L737.1 553.5 L732.9 575.9 L730.6 599.4 L730.6 610 L732.5 640 L732.6 660 L731.4 671.1 L729.8 678.5 L728.7 689.1 L726.6 697.5 L722.4 704.9 L716.5 713.4 L714.4 719.8 L715.5 727.2 L719.2 735.6 L721.8 748.4 L723.9 760 L725.5 763 L729.8 774.6 L731.9 778.9 L730.8 781.5 L726.1 782.3" fill="none" stroke="#2fc02f" stroke-width="1.25" stroke-linejoin="round"/>
<path d="M804.4 52 V800.6" stroke="#111" stroke-width="1.8" fill="none"/>
<path d="M804.4 781 h9" stroke="#111" stroke-width="1"/>
<text x="824" y="787.1" font-family="Liberation Sans, Arial, Helvetica, sans-serif" font-size="17" fill="#000">0</text>
<path d="M804.4 743.1 h9" stroke="#111" stroke-width="1"/>
<text x="824" y="749.2" font-family="Liberation Sans, Arial, Helvetica, sans-serif" font-size="17" fill="#000">2</text>
<path d="M804.4 704.7 h9" stroke="#111" stroke-width="1"/>
<text x="824" y="710.8" font-family="Liberation Sans, Arial, Helvetica, sans-serif" font-size="17" fill="#000">4</text>
<path d="M804.4 665.7 h9" stroke="#111" stroke-width="1"/>
<text x="824" y="671.8" font-family="Liberation Sans, Arial, Helvetica, sans-serif" font-size="17" fill="#000">6</text>
<path d="M804.4 626.1 h9" stroke="#111" stroke-width="1"/>
<text x="824" y="632.2" font-family="Liberation Sans, Arial, Helvetica, sans-serif" font-size="17" fill="#000">8</text>
<path d="M804.4 586 h9" stroke="#111" stroke-width="1"/>
<text x="824" y="592.1" font-family="Liberation Sans, Arial, Helvetica, sans-serif" font-size="17" fill="#000">10</text>
<path d="M804.4 545.2 h9" stroke="#111" stroke-width="1"/>
<text x="824" y="551.3" font-family="Liberation Sans, Arial, Helvetica, sans-serif" font-size="17" fill="#000">12</text>
<path d="M804.4 503.9 h9" stroke="#111" stroke-width="1"/>
<text x="824" y="510" font-family="Liberation Sans, Arial, Helvetica, sans-serif" font-size="17" fill="#000">14</text>
<path d="M804.4 461.9 h9" stroke="#111" stroke-width="1"/>
<text x="824" y="468" font-family="Liberation Sans, Arial, Helvetica, sans-serif" font-size="17" fill="#000">16</text>
<path d="M804.4 419.3 h9" stroke="#111" stroke-width="1"/>
<text x="824" y="425.4" font-family="Liberation Sans, Arial, Helvetica, sans-serif" font-size="17" fill="#000">18</text>
<path d="M804.4 375.9 h9" stroke="#111" stroke-width="1"/>
<text x="824" y="382" font-family="Liberation Sans, Arial, Helvetica, sans-serif" font-size="17" fill="#000">20</text>
<path d="M804.4 331.9 h9" stroke="#111" stroke-width="1"/>
<text x="824" y="338" font-family="Liberation Sans, Arial, Helvetica, sans-serif" font-size="17" fill="#000">22</text>
<path d="M804.4 287.2 h9" stroke="#111" stroke-width="1"/>
<text x="824" y="293.3" font-family="Liberation Sans, Arial, Helvetica, sans-serif" font-size="17" fill="#000">24</text>
<path d="M804.4 241.7 h9" stroke="#111" stroke-width="1"/>
<text x="824" y="247.8" font-family="Liberation Sans, Arial, Helvetica, sans-serif" font-size="17" fill="#000">26</text>
<path d="M804.4 195.5 h9" stroke="#111" stroke-width="1"/>
<text x="824" y="201.6" font-family="Liberation Sans, Arial, Helvetica, sans-serif" font-size="17" fill="#000">28</text>
<path d="M804.4 148.4 h9" stroke="#111" stroke-width="1"/>
<text x="824" y="154.5" font-family="Liberation Sans, Arial, Helvetica, sans-serif" font-size="17" fill="#000">30</text>
<path d="M804.4 100.6 h9" stroke="#111" stroke-width="1"/>
<text x="824" y="106.7" font-family="Liberation Sans, Arial, Helvetica, sans-serif" font-size="17" fill="#000">32</text>
<circle cx="34.9" cy="22" r="4.4" fill="#000"/>
<text x="45" y="28.3" font-family="Liberation Sans, Arial, Helvetica, sans-serif" font-size="20.5" fill="#000">Whenuapai</text>
<text x="154" y="25.6" font-family="Liberation Sans, Arial, Helvetica, sans-serif" font-size="12.7" fill="#000">-36.785°,174.636° (18,47)</text>
<text x="320.5" y="28.3" font-family="Liberation Sans, Arial, Helvetica, sans-serif" font-size="20.5" fill="#000">Valid 1900 NZDT</text>
<text x="482.5" y="27" font-family="Liberation Sans, Arial, Helvetica, sans-serif" font-size="15" fill="#000">(0600Z)</text>
<text x="540.5" y="28.3" font-family="Liberation Sans, Arial, Helvetica, sans-serif" font-size="20.6" fill="#000">MON 8 Dec 2025</text>
<text x="706" y="27.2" font-family="Liberation Sans, Arial, Helvetica, sans-serif" font-size="15.4" fill="#000">[30hrFcst@0513z]</text>
<text x="293.5" y="48.3" font-family="Liberation Sans, Arial, Helvetica, sans-serif" font-size="12.3" fill="#b0084c" stroke="#b0084c" stroke-width="0.3">Plcl=853 Tlcl[C]=9 Shox=6 Pwat[cm]=2 Cape[J]= 2</text>
<text x="45" y="58.6" font-family="Liberation Sans, Arial, Helvetica, sans-serif" font-size="17" fill="#000" text-anchor="end">250</text>
<text x="45" y="153.6" font-family="Liberation Sans, Arial, Helvetica, sans-serif" font-size="17" fill="#000" text-anchor="end">300</text>
<text x="45" y="303.5" font-family="Liberation Sans, Arial, Helvetica, sans-serif" font-size="17" fill="#000" text-anchor="end">400</text>
<text x="45" y="419.7" font-family="Liberation Sans, Arial, Helvetica, sans-serif" font-size="17" fill="#000" text-anchor="end">500</text>
<text x="45" y="595" font-family="Liberation Sans, Arial, Helvetica, sans-serif" font-size="17" fill="#000" text-anchor="end">700</text>
<text x="45" y="696.2" font-family="Liberation Sans, Arial, Helvetica, sans-serif" font-size="17" fill="#000" text-anchor="end">850</text>
<text x="45" y="780.9" font-family="Liberation Sans, Arial, Helvetica, sans-serif" font-size="17" fill="#000" text-anchor="end">1000</text>
<text transform="translate(14 443.8) rotate(-90)" font-family="Liberation Sans, Arial, Helvetica, sans-serif" font-size="15.5" fill="#000" text-anchor="middle">P (hPa)</text>
<text x="86.3" y="833.7" font-family="Liberation Sans, Arial, Helvetica, sans-serif" font-size="17" fill="#000" text-anchor="middle">-30</text>
<text x="168.6" y="833.7" font-family="Liberation Sans, Arial, Helvetica, sans-serif" font-size="17" fill="#000" text-anchor="middle">-20</text>
<text x="251" y="833.7" font-family="Liberation Sans, Arial, Helvetica, sans-serif" font-size="17" fill="#000" text-anchor="middle">-10</text>
<text x="333.3" y="833.7" font-family="Liberation Sans, Arial, Helvetica, sans-serif" font-size="17" fill="#000" text-anchor="middle">0</text>
<text x="415.7" y="833.7" font-family="Liberation Sans, Arial, Helvetica, sans-serif" font-size="17" fill="#000" text-anchor="middle">10</text>
<text x="498" y="833.7" font-family="Liberation Sans, Arial, Helvetica, sans-serif" font-size="17" fill="#000" text-anchor="middle">20</text>
<text x="580.4" y="833.7" font-family="Liberation Sans, Arial, Helvetica, sans-serif" font-size="17" fill="#000" text-anchor="middle">30</text>
<text x="662.7" y="833.7" font-family="Liberation Sans, Arial, Helvetica, sans-serif" font-size="17" fill="#000" text-anchor="middle">40</text>
<text x="430.8" y="854.8" font-family="Liberation Sans, Arial, Helvetica, sans-serif" font-size="15.2" fill="#000" text-anchor="middle">Temperature (C)</text>
<text x="56.7" y="49.2" font-family="Liberation Sans, Arial, Helvetica, sans-serif" font-size="12" stroke="#00aa00" stroke-width="0.4" fill="#00aa00" text-anchor="middle">0.0</text>
<text x="56.7" y="64.6" font-family="Liberation Sans, Arial, Helvetica, sans-serif" font-size="12" fill="#000" text-anchor="middle">0.0</text>
<text x="56.7" y="799.2" font-family="Liberation Sans, Arial, Helvetica, sans-serif" font-size="12" stroke="#00aa00" stroke-width="0.15" fill="#00aa00" text-anchor="middle">0.0</text>
<text x="56.7" y="812.9" font-family="Liberation Sans, Arial, Helvetica, sans-serif" font-size="12" fill="#000" text-anchor="middle">0.0</text>
<text x="87" y="49.2" font-family="Liberation Sans, Arial, Helvetica, sans-serif" font-size="12" stroke="#00aa00" stroke-width="0.4" fill="#00aa00" text-anchor="middle">0.5</text>
<text x="87" y="64.6" font-family="Liberation Sans, Arial, Helvetica, sans-serif" font-size="12" fill="#000" text-anchor="middle">0.5</text>
<text x="87" y="799.2" font-family="Liberation Sans, Arial, Helvetica, sans-serif" font-size="12" stroke="#00aa00" stroke-width="0.15" fill="#00aa00" text-anchor="middle">0.5</text>
<text x="87" y="812.9" font-family="Liberation Sans, Arial, Helvetica, sans-serif" font-size="12" fill="#000" text-anchor="middle">0.5</text>
<text x="117.3" y="49.2" font-family="Liberation Sans, Arial, Helvetica, sans-serif" font-size="12" stroke="#00aa00" stroke-width="0.4" fill="#00aa00" text-anchor="middle">1.0</text>
<text x="117.3" y="64.6" font-family="Liberation Sans, Arial, Helvetica, sans-serif" font-size="12" fill="#000" text-anchor="middle">1.0</text>
<text x="117.3" y="799.2" font-family="Liberation Sans, Arial, Helvetica, sans-serif" font-size="12" stroke="#00aa00" stroke-width="0.15" fill="#00aa00" text-anchor="middle">1.0</text>
<text x="117.3" y="812.9" font-family="Liberation Sans, Arial, Helvetica, sans-serif" font-size="12" fill="#000" text-anchor="middle">1.0</text>
<text x="133" y="799.2" font-family="Liberation Sans, Arial, Helvetica, sans-serif" font-size="12.3" fill="#00aa00" stroke="#00aa00" stroke-width="0.25">CloudWater (g/Kg)</text>
<text x="133" y="812.6" font-family="Liberation Sans, Arial, Helvetica, sans-serif" font-size="12.3" fill="#000" stroke="#000" stroke-width="0.25">Grid-Scale Cloudiness</text>
<text x="713.4" y="65.6" font-family="Liberation Sans, Arial, Helvetica, sans-serif" font-size="12.2" stroke="#00aa00" stroke-width="0.55" fill="#00aa00" text-anchor="middle">0</text>
<text x="713.4" y="799.2" font-family="Liberation Sans, Arial, Helvetica, sans-serif" font-size="12.2" stroke="#00aa00" stroke-width="0.55" fill="#00aa00" text-anchor="middle">0</text>
<text x="758.9" y="65.6" font-family="Liberation Sans, Arial, Helvetica, sans-serif" font-size="12.2" stroke="#00aa00" stroke-width="0.55" fill="#00aa00" text-anchor="middle">20</text>
<text x="758.9" y="799.2" font-family="Liberation Sans, Arial, Helvetica, sans-serif" font-size="12.2" stroke="#00aa00" stroke-width="0.55" fill="#00aa00" text-anchor="middle">20</text>
<text x="804.4" y="65.6" font-family="Liberation Sans, Arial, Helvetica, sans-serif" font-size="12.2" stroke="#00aa00" stroke-width="0.55" fill="#00aa00" text-anchor="middle">40</text>
<text x="804.4" y="799.2" font-family="Liberation Sans, Arial, Helvetica, sans-serif" font-size="12.2" stroke="#00aa00" stroke-width="0.55" fill="#00aa00" text-anchor="middle">40</text>
<text x="849.9" y="65.6" font-family="Liberation Sans, Arial, Helvetica, sans-serif" font-size="12.2" stroke="#00aa00" stroke-width="0.55" fill="#00aa00" text-anchor="middle">60</text>
<text x="849.9" y="799.2" font-family="Liberation Sans, Arial, Helvetica, sans-serif" font-size="12.2" stroke="#00aa00" stroke-width="0.55" fill="#00aa00" text-anchor="middle">60</text>
<text x="732.4" y="812.8" font-family="Liberation Sans, Arial, Helvetica, sans-serif" font-size="12.5" fill="#00aa00">Speed (kt)</text>
<text transform="translate(774 426.2) rotate(90)" font-family="Liberation Sans, Arial, Helvetica, sans-serif" font-size="17" fill="#000" text-anchor="middle">Height (1000 Feet)</text>
</svg>
</body></html>
